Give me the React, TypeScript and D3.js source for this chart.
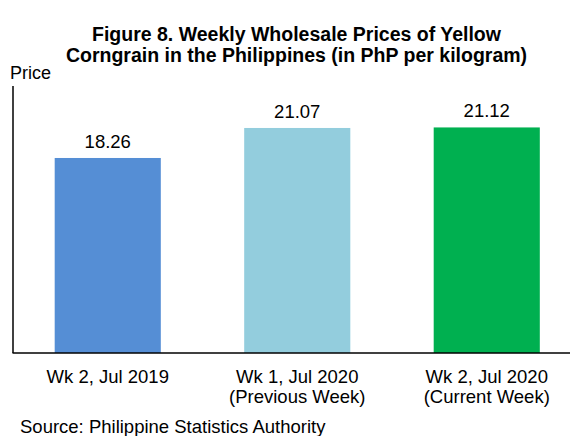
import React from "react";
import * as d3 from "d3";

const categories = ["Wk 2, Jul 2019", "Wk 1, Jul 2020|(Previous Week)", "Wk 2, Jul 2020|(Current Week)"];
const prices = [18.26, 21.07, 21.12];
const barColors = ["#558ED5", "#93CDDD", "#00B050"];
const titleLines = ["Figure 8. Weekly Wholesale Prices of Yellow", "Corngrain in the Philippines (in PhP per kilogram)"];

const W = 570;
const H = 436;
const font = "Liberation Sans, Arial, sans-serif";

export default function App() {
  const x = d3.scaleBand<string>().domain(categories).range([13, 581.5]).paddingInner(0.44).paddingOuter(0.22);
  const y = d3.scaleLinear().domain([0, 25]).range([353, 86]);
  return (
    <svg width={W} height={H} style={{ position: "absolute", left: 0, top: 0, background: "#fff" }} fontFamily={font}>
      {titleLines.map((t, i) => (
        <text key={i} x={296.5} y={41 + i * 21} textAnchor="middle" fontWeight="bold" fontSize={19.5} fill="#000">{t}</text>
      ))}
      <text x={10} y={79} fontSize={18} fill="#000">Price</text>
      {categories.map((c, i) => (
        <g key={c}>
          <rect x={x(c)} y={y(prices[i])} width={x.bandwidth()} height={y(0) - y(prices[i])} fill={barColors[i]} />
          <text x={(x(c) as number) + x.bandwidth() / 2} y={y(prices[i]) - 10} textAnchor="middle" fontSize={18.5} fill="#000">
            {prices[i].toFixed(2)}
          </text>
          {c.split("|").map((ln, j) => (
            <text key={j} x={(x(c) as number) + x.bandwidth() / 2} y={383 + j * 20} textAnchor="middle" fontSize={18.5} fill="#000">{ln}</text>
          ))}
        </g>
      ))}
      <line x1={13} x2={13} y1={y(25)} y2={y(0)} stroke="#000" strokeWidth={1.5} />
      <line x1={12.5} x2={570} y1={y(0)} y2={y(0)} stroke="#000" strokeWidth={1.5} />
      <text x={20} y={433} fontSize={18.5} fill="#000">Source: Philippine Statistics Authority</text>
    </svg>
  );
}
